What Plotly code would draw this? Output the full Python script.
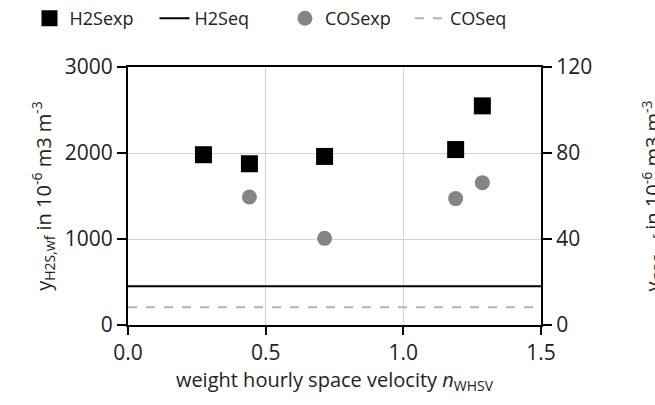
import plotly.graph_objects as go

whsv = [0.274, 0.441, 0.714, 1.19, 1.287]
h2s_exp = [1980, 1875, 1960, 2040, 2548]
whsv_cos = [0.441, 0.714, 1.19, 1.287]
cos_exp = [59.5, 40.3, 58.8, 66.2]
eq_x = [0.0, 1.5]
h2s_eq = [450, 450]
cos_eq = [8.2, 8.2]

FONT = "Open Sans"
fig = go.Figure()
fig.add_trace(go.Scatter(x=whsv, y=h2s_exp, mode="markers", name="H2Sexp",
                         marker=dict(symbol="square", size=17, color="black"),
                         legend="legend"))
fig.add_trace(go.Scatter(x=eq_x, y=h2s_eq, mode="lines", name="H2Seq",
                         line=dict(color="black", width=2), legend="legend"))
fig.add_trace(go.Scatter(x=whsv_cos, y=cos_exp, mode="markers", name="COSexp",
                         marker=dict(symbol="circle", size=15, color="#858585"),
                         yaxis="y2", legend="legend2"))
fig.add_trace(go.Scatter(x=eq_x, y=cos_eq, mode="lines", name="COSeq",
                         line=dict(color="#b4b4b4", width=2, dash="dash"),
                         yaxis="y2", legend="legend2"))

leg_common = dict(orientation="h", xref="container", y=1.0, yref="container",
                  xanchor="left", yanchor="top", font=dict(size=18), itemwidth=30,
                  entrywidth=80, entrywidthmode="pixels",
                  tracegroupgap=0, bgcolor="rgba(0,0,0,0)")

fig.update_layout(
    width=655, height=405,
    margin=dict(l=128, r=114, t=67, b=80),
    paper_bgcolor="white", plot_bgcolor="white",
    font=dict(family=FONT, size=20, color="#222"),
    showlegend=True,
    legend=dict(x=0.045, **leg_common),
    legend2=dict(x=0.435, **leg_common),
    xaxis=dict(range=[0, 1.5], dtick=0.5, tickformat=".1f", showgrid=True,
               gridcolor="#d4d4d4", gridwidth=1, showline=True, linecolor="black",
               linewidth=2, mirror=True, ticks="outside", ticklen=8, tickwidth=2,
               tickcolor="black", zeroline=False, tickfont=dict(size=21),
               title=dict(text="weight hourly space velocity <i>n</i><sub>WHSV</sub>",
                          standoff=4, font=dict(size=20))),
    yaxis=dict(range=[0, 3000], dtick=1000, showgrid=True, gridcolor="#d4d4d4",
               showline=True, linecolor="black", linewidth=2, ticks="outside",
               ticklen=9, tickwidth=2, tickcolor="black", zeroline=False,
               tickfont=dict(size=21),
               title=dict(text="y<sub>H2S,wf</sub> in 10<sup>-6</sup> m3 m<sup>-3</sup>",
                          standoff=8, font=dict(size=20))),
    yaxis2=dict(range=[0, 120], dtick=40, overlaying="y", side="right",
                showgrid=False, showline=True, linecolor="black", linewidth=2,
                ticks="outside", ticklen=9, tickwidth=2, tickcolor="black",
                zeroline=False, tickfont=dict(size=21)),
    annotations=[dict(text="y<sub>COS,wf</sub> in 10<sup>-6</sup> m3 m<sup>-3</sup>",
                      xref="paper", yref="paper", x=1.27, y=0.5, xanchor="center",
                      yanchor="middle", textangle=-90, showarrow=False,
                      font=dict(size=20))],
)
fig.write_html("out.html")
